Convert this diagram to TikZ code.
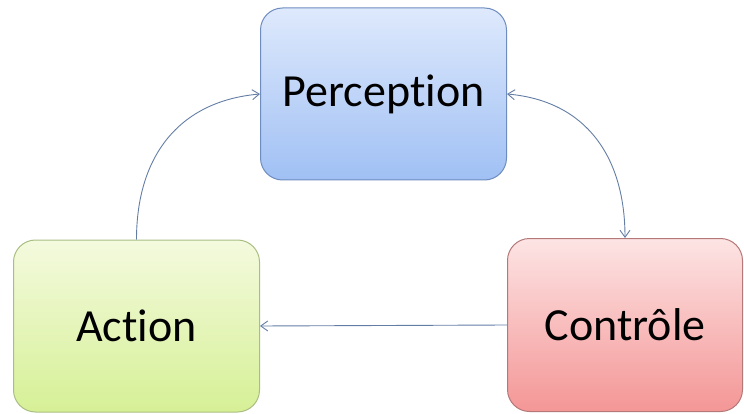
\documentclass[tikz,border=0pt]{standalone}
\usepackage{fontspec}
\setmainfont{Carlito}[Ligatures=NoCommon]
\usetikzlibrary{arrows.meta}
\definecolor{pertop}{RGB}{222,233,252}
\definecolor{perbot}{RGB}{160,192,244}
\definecolor{perdraw}{RGB}{110,140,190}
\definecolor{acttop}{RGB}{244,250,222}
\definecolor{actbot}{RGB}{214,240,150}
\definecolor{actdraw}{RGB}{170,190,130}
\definecolor{ctltop}{RGB}{253,228,228}
\definecolor{ctlbot}{RGB}{244,150,150}
\definecolor{ctldraw}{RGB}{180,120,120}
\definecolor{cfleche}{RGB}{100,125,165}
\tikzset{
  bloc/.style={rounded corners=22pt, line width=1pt,
               minimum width=246pt, minimum height=172pt,
               font=\fontsize{46}{52}\selectfont},
  fleche/.style={-{Straight Barb[length=7pt,width=10pt]}, cfleche, line width=0.9pt},
}
\begin{document}
\begin{tikzpicture}[x=1pt,y=-1pt]
  \useasboundingbox (0,0) rectangle (744,414);
  \node[bloc, draw=perdraw, top color=pertop, bottom color=perbot] (percep) at (383.5,94) {Perception};
  \node[bloc, draw=actdraw, top color=acttop, bottom color=actbot] (act) at (136.5,326) {Action};
  \node[bloc, draw=ctldraw, top color=ctltop, bottom color=ctlbot,
        minimum width=235pt, minimum height=173pt] (ctrl) at (625,325) {Contrôle};
  \draw[fleche] (act.north) to[out=90,in=185,looseness=1.1] (percep.west);
  \draw[fleche, {Straight Barb[length=7pt,width=10pt]}-{Straight Barb[length=7pt,width=10pt]}]
    (percep.east) to[out=-5,in=90,looseness=1.1] (ctrl.north);
  \draw[fleche] (ctrl.west) -- (act.east);
\end{tikzpicture}
\end{document}
